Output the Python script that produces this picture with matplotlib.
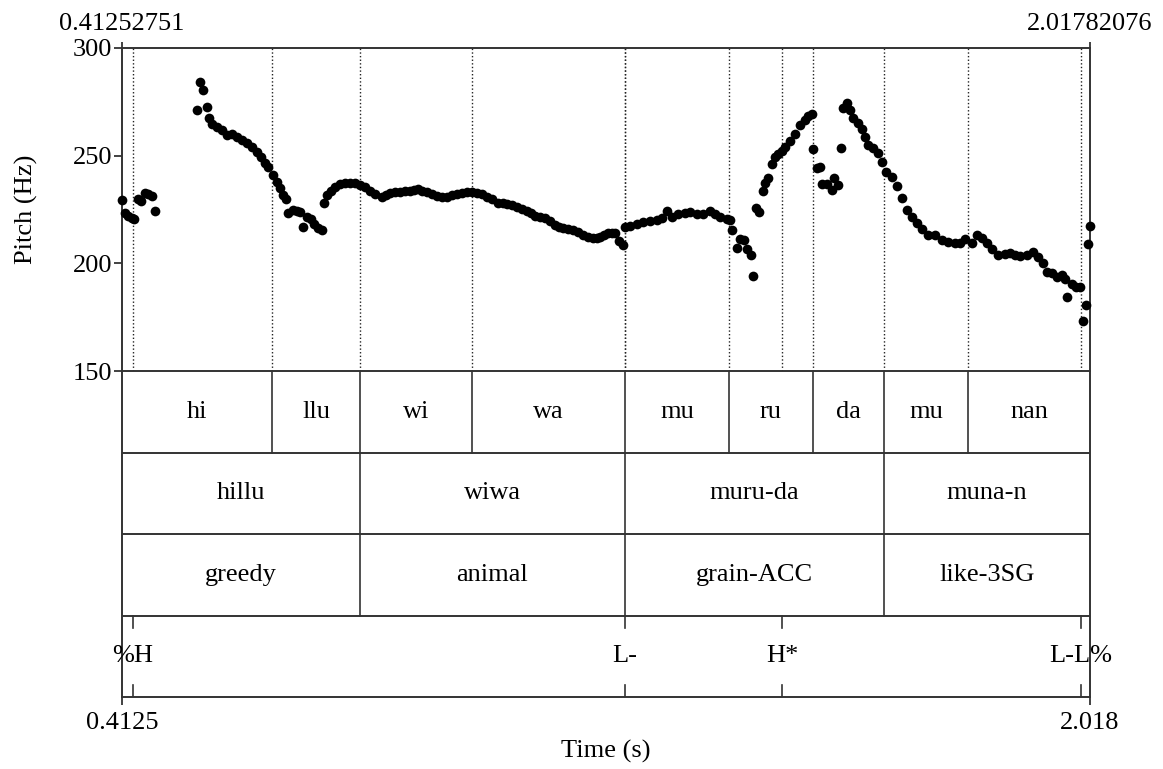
import numpy as np
import matplotlib
matplotlib.use("Agg")
import matplotlib.pyplot as plt

plt.rcParams['font.family'] = ['Liberation Serif', 'DejaVu Serif']

# time range of the sound (s)
t_start = 0.41252751
t_end = 2.01782076

# pitch track (time in s, F0 in Hz)
pitch_t = [
    0.4125, 0.4175, 0.4230, 0.4286, 0.4329, 0.4386, 0.4435, 0.4507, 0.4561, 0.4628, 0.4678,
    0.5374, 0.5419, 0.5474, 0.5530, 0.5568, 0.5623, 0.5696, 0.5779, 0.5862, 0.5944,
    0.6027, 0.6110, 0.6193, 0.6276, 0.6359, 0.6430, 0.6497, 0.6552, 0.6634, 0.6691,
    0.6745, 0.6800, 0.6845,
    0.6883, 0.6956, 0.7022, 0.7077, 0.7132, 0.7188, 0.7254, 0.7309, 0.7380, 0.7437,
    0.7475, 0.7520, 0.7586, 0.7657, 0.7740, 0.7823, 0.7906, 0.7989, 0.8072, 0.8155,
    0.8238, 0.8321, 0.8432, 0.8501, 0.8570, 0.8653, 0.8735, 0.8818, 0.8901, 0.8970,
    0.9039, 0.9108, 0.9178, 0.9260, 0.9344, 0.9427, 0.9510, 0.9593, 0.9676, 0.9759,
    0.9842, 0.9925, 1.0008, 1.0091, 1.0174, 1.0269, 1.0366, 1.0436, 1.0505, 1.0588,
    1.0671, 1.0754, 1.0837, 1.0905, 1.0974, 1.1058, 1.1140, 1.1224, 1.1306, 1.1373,
    1.1444, 1.1527, 1.1610, 1.1693, 1.1775, 1.1859, 1.1941, 1.1997, 1.2052, 1.2118,
    1.2190, 1.2245, 1.2301, 1.2372, 1.2429,
    1.2467, 1.2550, 1.2661, 1.2770, 1.2881, 1.2992, 1.3075, 1.3158, 1.3241, 1.3351,
    1.3462, 1.3545, 1.3656, 1.3765, 1.3876, 1.3959, 1.4042, 1.4153, 1.4208,
    1.4246, 1.4319, 1.4374, 1.4445, 1.4485, 1.4551, 1.4595,
    1.4639, 1.4694, 1.4750, 1.4789, 1.4843, 1.4900, 1.4954, 1.5009, 1.5065, 1.5120,
    1.5203, 1.5286, 1.5369, 1.5452, 1.5507, 1.5563,
    1.5590, 1.5646, 1.5701, 1.5729, 1.5812, 1.5895, 1.5938, 1.6004, 1.6044,
    1.6077, 1.6143, 1.6198, 1.6253, 1.6336, 1.6392, 1.6447, 1.6502, 1.6585, 1.6668,
    1.6724, 1.6795, 1.6890, 1.6973, 1.7055, 1.7138, 1.7221, 1.7304, 1.7387, 1.7497,
    1.7608, 1.7719, 1.7828, 1.7939, 1.8022, 1.8105, 1.8216, 1.8299, 1.8382, 1.8465,
    1.8548, 1.8658, 1.8769, 1.8852, 1.8935, 1.9018, 1.9128, 1.9238, 1.9321, 1.9404,
    1.9460, 1.9543, 1.9626, 1.9709, 1.9764, 1.9802, 1.9875, 1.9946, 2.0012, 2.0057,
    2.0107, 2.0150, 2.0175,
]
pitch_hz = [
    229.4, 223.5, 222.1, 221.2, 220.4, 229.7, 229.1, 232.8, 232.0, 231.4, 224.3,
    271.2, 284.1, 280.5, 272.7, 267.3, 264.7, 263.5, 261.9, 259.6, 260.1,
    258.8, 257.3, 255.7, 253.9, 251.8, 249.2, 246.5, 244.9, 241.0, 237.9,
    234.8, 231.7, 229.9,
    223.5, 224.8, 224.4, 224.0, 217.0, 221.4, 220.4, 218.3, 216.3, 215.5,
    228.2, 231.7, 233.7, 235.3, 236.7, 237.5, 237.5, 237.2, 236.4, 235.3,
    233.7, 232.2, 231.0, 231.6, 232.5, 233.0, 233.3, 233.5, 233.7, 234.1,
    234.4, 233.8, 233.0, 232.2, 231.3, 231.0, 231.0, 231.6, 232.2, 232.7,
    233.0, 233.1, 232.8, 232.2, 231.0, 229.8, 227.9, 227.8, 227.6, 226.9,
    226.0, 225.1, 224.4, 223.3, 222.0, 221.5, 220.9, 219.5, 217.8, 217.0,
    216.3, 215.9, 215.5, 214.5, 213.2, 212.3, 211.6, 211.8, 212.4, 213.3,
    214.2, 214.3, 213.9, 210.5, 208.5,
    217.0, 217.3, 218.3, 219.3, 219.8, 220.1, 220.9, 224.4, 221.7, 222.8,
    223.5, 224.0, 222.8, 222.8, 224.4, 222.9, 221.7, 220.6, 220.1,
    215.5, 207.0, 211.2, 210.8, 206.5, 203.9, 194.1,
    225.6, 224.0, 233.7, 237.2, 239.8, 246.1, 249.2, 250.8, 252.3, 254.0,
    257.0, 260.0, 264.2, 266.6, 268.4, 269.3,
    253.0, 244.1, 244.9, 236.8, 236.8, 234.1, 239.8, 236.4, 253.4,
    272.0, 274.3, 271.2, 267.3, 265.3, 262.2, 258.5, 255.0, 253.4, 251.1,
    247.2, 242.6, 240.2, 235.9, 230.2, 224.8, 221.7, 218.6, 215.8, 213.2,
    213.2, 210.8, 210.0, 209.3, 209.3, 211.2, 209.6, 213.2, 211.6, 209.3,
    206.5, 203.9, 204.3, 204.9, 203.9, 203.4, 203.9, 205.4, 203.1, 200.0,
    196.1, 195.4, 193.5, 194.6, 192.6, 184.5, 190.4, 188.8, 188.8, 173.4,
    180.6, 208.8, 217.5,
]

# TextGrid tiers
syll_bounds = [0.6613, 0.8072, 0.9930, 1.2467, 1.4192, 1.5585, 1.6762, 1.8155]
syll_labels = ["hi", "llu", "wi", "wa", "mu", "ru", "da", "mu", "nan"]
word_bounds = [0.8072, 1.2467, 1.6762]
word_labels = ["hillu", "wiwa", "muru-da", "muna-n"]
gloss_labels = ["greedy", "animal", "grain-ACC", "like-3SG"]
tone_times = [0.4308, 1.2467, 1.5070, 2.0029]
tone_labels = ["%H", "L-", "H*", "L-L%"]

W, H = 1163, 769
fig = plt.figure(figsize=(W / 100, H / 100), dpi=100)
left, right = 122 / W, 1090 / W
ax = fig.add_axes([left, 1 - 371 / H, right - left, 323 / H])
tg = fig.add_axes([left, 1 - 697 / H, right - left, 326 / H])

line_col = "#333333"
fs = 19

# pitch panel
for t in syll_bounds + tone_times:
    ax.axvline(t, color="#222222", lw=1.0, ls=(0, (1, 1.6)), zorder=1)
ax.plot(pitch_t, pitch_hz, "o", color="black", ms=7, mew=0, zorder=3, clip_on=False)
ax.set_xlim(t_start, t_end)
ax.set_ylim(150, 300)
ax.set_yticks([150, 200, 250, 300])
ax.set_xticks([t_start, t_end])
ax.set_xticklabels(["0.41252751", "2.01782076"])
ax.tick_params(axis="x", top=True, labeltop=True, bottom=False, labelbottom=False,
               direction="out", length=4, width=1.3, color=line_col, pad=5, labelsize=fs)
ax.tick_params(axis="y", direction="out", length=6, width=1.3, color=line_col,
               pad=1, labelsize=fs)
ax.spines["bottom"].set_visible(False)
for s in ["top", "left", "right"]:
    ax.spines[s].set_color(line_col)
    ax.spines[s].set_linewidth(1.4)
ax.set_ylabel("Pitch (Hz)", fontsize=fs, labelpad=25)

# annotation tiers
tg.set_xlim(t_start, t_end)
tg.set_ylim(4, 0)
for s in tg.spines.values():
    s.set_color(line_col)
    s.set_linewidth(1.4)
for y in [1, 2, 3]:
    tg.axhline(y, color=line_col, lw=1.4)


def interval_tier(row, bounds, labels):
    for b in bounds:
        tg.plot([b, b], [row, row + 1], color=line_col, lw=1.2)
    edges = [t_start] + bounds + [t_end]
    for i, lab in enumerate(labels):
        tg.text((edges[i] + edges[i + 1]) / 2, row + 0.5, lab, ha="center",
                va="center", fontsize=fs)


interval_tier(0, syll_bounds, syll_labels)
interval_tier(1, word_bounds, word_labels)
interval_tier(2, word_bounds, gloss_labels)

for t, lab in zip(tone_times, tone_labels):
    tg.plot([t, t], [3, 3.15], color=line_col, lw=1.2)
    tg.plot([t, t], [3.85, 4], color=line_col, lw=1.2)
    tg.text(t, 3.5, lab, ha="center", va="center", fontsize=fs)

tg.set_yticks([])
tg.set_xticks([t_start, t_end])
tg.set_xticklabels(["0.4125", "2.018"])
tg.tick_params(axis="x", direction="out", length=6, width=1.3, color=line_col,
               pad=5, labelsize=fs)
tg.set_xlabel("Time (s)", fontsize=fs, labelpad=4)

fig.savefig("out.png", dpi=100)
